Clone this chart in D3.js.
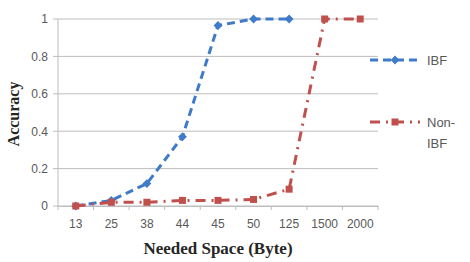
<!DOCTYPE html>
<html><head><meta charset="utf-8">
<script src="https://cdn.jsdelivr.net/npm/d3@7"></script>
<style>body{margin:0;background:#fff}svg{display:block}</style>
</head><body><div id="c"></div>
<script>
const categories = ["13","25","38","44","45","50","125","1500","2000"];
const ibf = [0, 0.03, 0.12, 0.37, 0.965, 1, 1, null, null];
const nonIbf = [0, 0.02, 0.02, 0.03, 0.03, 0.035, 0.09, 1, 1];
const yTicks = [0, 0.2, 0.4, 0.6, 0.8, 1];
const seriesNames = ["IBF", "Non-IBF"];

const W = 470, H = 262;
const m = {l: 58, r: 92, t: 19, b: 55};
const svg = d3.select("#c").append("svg").attr("width", W).attr("height", H);
const x = d3.scaleBand().domain(categories).range([m.l, W - m.r]);
const y = d3.scaleLinear().domain([0, 1]).range([H - m.b - 1, m.t]);

const grey = "#bdbdbd", txt = "#595959";
const blue = "#3f7bc8", red = "#c0504d";
const sans = "'Liberation Sans', Arial, sans-serif";

// gridlines
svg.append("g").selectAll("line").data(yTicks).join("line")
  .attr("x1", m.l - 5).attr("x2", W - m.r).attr("y1", d => y(d)).attr("y2", d => y(d))
  .attr("stroke", grey).attr("stroke-width", 1);
// y axis line
svg.append("line").attr("x1", m.l).attr("x2", m.l).attr("y1", y(1)).attr("y2", y(0))
  .attr("stroke", grey);
// y tick labels
const ya = svg.append("g").attr("transform", `translate(${m.l},0)`)
  .call(d3.axisLeft(y).tickValues(yTicks).tickSize(0).tickPadding(10).tickFormat(d3.format("~g")));
ya.select(".domain").remove();
ya.selectAll("text").attr("fill", txt).style("font", `12px ${sans}`);

// x axis
const xa = svg.append("g").attr("transform", `translate(0,${y(0)})`)
  .call(d3.axisBottom(x).tickSize(0).tickPadding(13));
xa.select(".domain").attr("stroke", grey);
xa.selectAll("text").attr("fill", txt).style("font", `12px ${sans}`);
// boundary tick marks
const bounds = categories.map(c => x(c)).concat([x(categories[categories.length-1]) + x.bandwidth()]);
svg.append("g").selectAll("line").data(bounds).join("line")
  .attr("x1", d => d).attr("x2", d => d).attr("y1", y(0)).attr("y2", y(0) + 4)
  .attr("stroke", grey);

const cx = c => x(c) + x.bandwidth() / 2;
const line = d3.line().defined(d => d[1] !== null).x(d => cx(d[0])).y(d => y(d[1]));

// IBF
const ibfData = categories.map((c, i) => [c, ibf[i]]);
svg.append("path").attr("d", line(ibfData)).attr("fill", "none")
  .attr("stroke", blue).attr("stroke-width", 3).attr("stroke-dasharray", "8,5");
svg.append("g").selectAll("path").data(ibfData.filter(d => d[1] !== null)).join("path")
  .attr("d", d3.symbol(d3.symbolDiamond2, 50))
  .attr("transform", d => `translate(${cx(d[0])},${y(d[1])})`).attr("fill", blue);

// Non-IBF
const nData = categories.map((c, i) => [c, nonIbf[i]]);
svg.append("path").attr("d", line(nData)).attr("fill", "none")
  .attr("stroke", red).attr("stroke-width", 3).attr("stroke-dasharray", "10,6,2,6");
svg.append("g").selectAll("rect").data(nData).join("rect")
  .attr("x", d => cx(d[0]) - 3.5).attr("y", d => y(d[1]) - 3.5)
  .attr("width", 7).attr("height", 7).attr("fill", red);

// legend
const lx = 370, lw = 50;
const lg = svg.append("g");
lg.append("line").attr("x1", lx).attr("x2", lx + lw).attr("y1", 60).attr("y2", 60)
  .attr("stroke", blue).attr("stroke-width", 3).attr("stroke-dasharray", "8,5");
lg.append("path").attr("d", d3.symbol(d3.symbolDiamond2, 50)).attr("transform", `translate(${lx + lw/2},60)`).attr("fill", blue);
lg.append("text").attr("x", 427).attr("y", 65).text(seriesNames[0])
  .attr("fill", txt).style("font", `13px ${sans}`);
lg.append("line").attr("x1", lx).attr("x2", lx + lw).attr("y1", 122).attr("y2", 122)
  .attr("stroke", red).attr("stroke-width", 3).attr("stroke-dasharray", "10,6,2,6");
lg.append("rect").attr("x", lx + lw/2 - 3.5).attr("y", 118.5).attr("width", 7).attr("height", 7).attr("fill", red);
const t2 = lg.append("text").attr("fill", txt).style("font", `13px ${sans}`);
t2.append("tspan").attr("x", 427).attr("y", 127).text("Non-");
t2.append("tspan").attr("x", 427).attr("y", 148).text("IBF");

// axis titles
svg.append("text").attr("x", 218).attr("y", 254).attr("text-anchor", "middle")
  .text("Needed Space (Byte)").attr("fill", "#262626")
  .style("font", "bold 17px 'Liberation Serif', 'Times New Roman', serif");
svg.append("text").attr("transform", `translate(19,114) rotate(-90)`).attr("text-anchor", "middle")
  .text("Accuracy").attr("fill", "#262626")
  .style("font", "bold 16px 'Liberation Serif', 'Times New Roman', serif");
</script></body></html>
